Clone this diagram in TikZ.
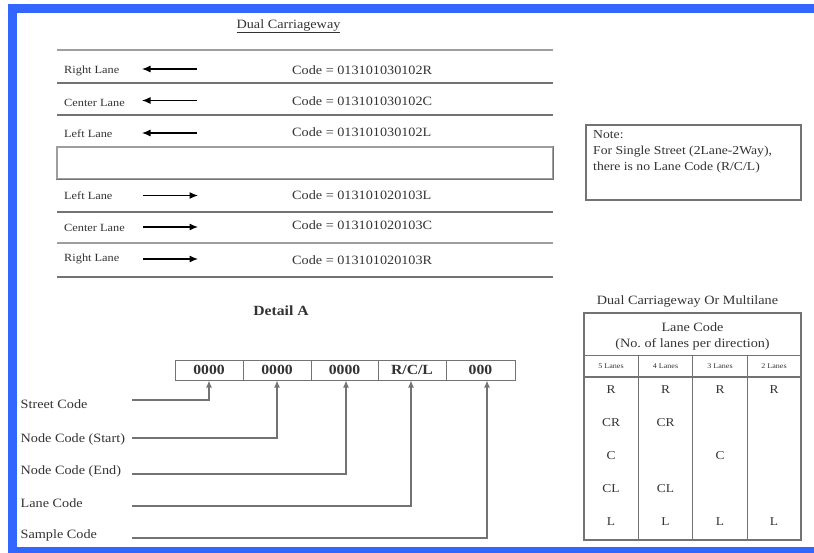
\documentclass[tikz,border=0pt]{standalone}
\usepackage{fontspec}
\setmainfont{Liberation Serif}[FakeStretch=1.12]
\usetikzlibrary{arrows.meta}
\definecolor{frameblue}{RGB}{51,102,255}
\definecolor{ink}{gray}{0.2}
\definecolor{rulegray}{gray}{0.45}
\definecolor{lightrule}{gray}{0.62}
\begin{document}
\begin{tikzpicture}[x=1pt,y=-1pt,
  txt/.style={inner sep=0pt, text=ink, font=\fontsize{12.7}{15}\selectfont},
  lanelab/.style={txt, anchor=west, font=\fontsize{11}{13}\selectfont},
  codetxt/.style={txt, anchor=west},
  roadline/.style={draw=rulegray, line width=1.5pt},
  lightroad/.style={draw=lightrule, line width=1.2pt},
  lanearrow/.style={draw=black, line width=1.2pt, -{Latex[length=8.5pt,width=7pt]}},
  cellbox/.style={draw=rulegray, line width=1pt, minimum height=20pt, inner sep=0pt,
     text=ink, font=\bfseries\fontsize{14}{16}\selectfont},
  codelab/.style={txt, anchor=west},
  conn/.style={draw=rulegray, line width=1.1pt, -{Latex[length=7pt,width=6pt]}},
  tabline/.style={draw=rulegray, line width=0.9pt},
  tabouter/.style={draw=rulegray, line width=1.5pt},
  colhead/.style={txt, font=\fontsize{7.2}{9}\selectfont},
  lanecell/.style={txt, font=\fontsize{12}{14}\selectfont}
]
\useasboundingbox (0,0) rectangle (814,553);
\fill[white] (0,0) rectangle (814,553);
% blue frame
\fill[frameblue] (8,4) rectangle (814,13);
\fill[frameblue] (8,4) rectangle (17,553);
\fill[frameblue] (8,547) rectangle (814,553);

% ---------- Dual carriageway ----------
\node[txt] (title) at (288.5,26) {\underline{Dual Carriageway}};

\draw[lightroad] (57,50) -- (553,50);
\draw[roadline] (57,83) -- (553,83);
\draw[roadline] (57,115) -- (553,115);
\node[draw=lightrule, line width=1.2pt, minimum width=496pt, minimum height=32pt, inner sep=0pt] (median) at (305,163) {};
\draw[rulegray, line width=1pt] (median.south west) -- (median.south east) -- (median.north east);
\draw[roadline] (57,212) -- (553,212);
\draw[lightroad] (57,243) -- (553,243);
\draw[roadline] (57,277) -- (553,277);

% upper lanes (leftwards)
\node[lanelab] (l1) at (64,71) {Right Lane};
\node[lanelab] (l2) at (64,102.5) {Center Lane};
\node[lanelab] (l3) at (64,134) {Left Lane};
\coordinate (a1s) at (197,69); \coordinate (a1e) at (142,69);
\coordinate (a2s) at (197,100.5); \coordinate (a2e) at (142,100.5);
\coordinate (a3s) at (197,133); \coordinate (a3e) at (142,133);
\draw[lanearrow] (a1s) -- (a1e);
\draw[lanearrow] (a2s) -- (a2e);
\draw[lanearrow] (a3s) -- (a3e);
\node[codetxt] (k1) at (292,70) {Code = 013101030102R};
\node[codetxt] (k2) at (292,101) {Code = 013101030102C};
\node[codetxt] (k3) at (292,132) {Code = 013101030102L};

% lower lanes (rightwards)
\node[lanelab] (l4) at (64,196) {Left Lane};
\node[lanelab] (l5) at (64,228) {Center Lane};
\node[lanelab] (l6) at (64,259) {Right Lane};
\coordinate (a4s) at (143,195.5); \coordinate (a4e) at (198,195.5);
\coordinate (a5s) at (143,227); \coordinate (a5e) at (198,227);
\coordinate (a6s) at (143,259); \coordinate (a6e) at (198,259);
\draw[lanearrow] (a4s) -- (a4e);
\draw[lanearrow] (a5s) -- (a5e);
\draw[lanearrow] (a6s) -- (a6e);
\node[codetxt] (k4) at (292,195) {Code = 013101020103L};
\node[codetxt] (k5) at (292,225.5) {Code = 013101020103C};
\node[codetxt] (k6) at (292,260) {Code = 013101020103R};

% note box
\node[draw=rulegray, line width=1.2pt, minimum width=215pt, minimum height=75pt, inner sep=0pt] (notebox) at (693.5,162.5) {};
\node[txt, anchor=north west, align=left, font=\fontsize{12.2}{16}\selectfont] (notetext) at (593,130)
  {Note:\\For Single Street (2Lane-2Way),\\there is no Lane Code (R/C/L)};

% ---------- Detail A ----------
\node[txt, font=\bfseries\fontsize{14}{16}\selectfont] (detail) at (281,311) {Detail A};

\node[cellbox, minimum width=68pt] (c1) at (209,370) {0000};
\node[cellbox, minimum width=68pt] (c2) at (277,370) {0000};
\node[cellbox, minimum width=67pt] (c3) at (344.5,370) {0000};
\node[cellbox, minimum width=68pt] (c4) at (412,370) {R/C/L};
\node[cellbox, minimum width=69pt] (c5) at (480.5,370) {000};

\node[codelab] (d1) at (20.5,404) {Street Code};
\node[codelab] (d2) at (20.5,439) {Node Code (Start)};
\node[codelab] (d3) at (20.5,471) {Node Code (End)};
\node[codelab] (d4) at (20.5,503) {Lane Code};
\node[codelab] (d5) at (20.5,535.5) {Sample Code};

\coordinate (s1) at (132,400);
\coordinate (s2) at (132,438);
\coordinate (s3) at (132,474);
\coordinate (s4) at (132,506);
\coordinate (s5) at (132,538);
\draw[conn] (s1) -| (c1.south);
\draw[conn] (s2) -| (c2.south);
\draw[conn] (s3) -| ([xshift=1.5pt]c3.south);
\draw[conn] (s4) -| ([xshift=-1pt]c4.south);
\draw[conn] (s5) -| ([xshift=6.5pt]c5.south);

% ---------- Lane code table ----------
\node[txt] (ttitle) at (687.5,301) {Dual Carriageway Or Multilane};
\draw[tabouter] (584,313) rectangle (801,540);
\draw[tabline] (584,355) -- (801,355);
\draw[tabouter] (584,377) -- (801,377);
\draw[tabline] (638.5,355) -- (638.5,540);
\draw[tabline] (692.5,355) -- (692.5,540);
\draw[tabline] (747,355) -- (747,540);
\node[txt] (lc1) at (692.5,327) {Lane Code};
\node[txt] (lc2) at (692.5,344) {(No.\ of lanes per direction)};

\node[colhead] (h1) at (611,366) {5 Lanes};
\node[colhead] (h2) at (665.5,366) {4 Lanes};
\node[colhead] (h3) at (720,366) {3 Lanes};
\node[colhead] (h4) at (774,366) {2 Lanes};

\node[lanecell] (r1) at (611,390) {R};
\node[lanecell] (r2) at (665.5,390) {R};
\node[lanecell] (r3) at (720,390) {R};
\node[lanecell] (r4) at (774,390) {R};
\node[lanecell] (cr1) at (611,423) {CR};
\node[lanecell] (cr2) at (665.5,423) {CR};
\node[lanecell] (cc1) at (611,456) {C};
\node[lanecell] (cc3) at (720,456) {C};
\node[lanecell] (cl1) at (611,489) {CL};
\node[lanecell] (cl2) at (665.5,489) {CL};
\node[lanecell] (ll1) at (611,522) {L};
\node[lanecell] (ll2) at (665.5,522) {L};
\node[lanecell] (ll3) at (720,522) {L};
\node[lanecell] (ll4) at (774,522) {L};
\end{tikzpicture}
\end{document}
